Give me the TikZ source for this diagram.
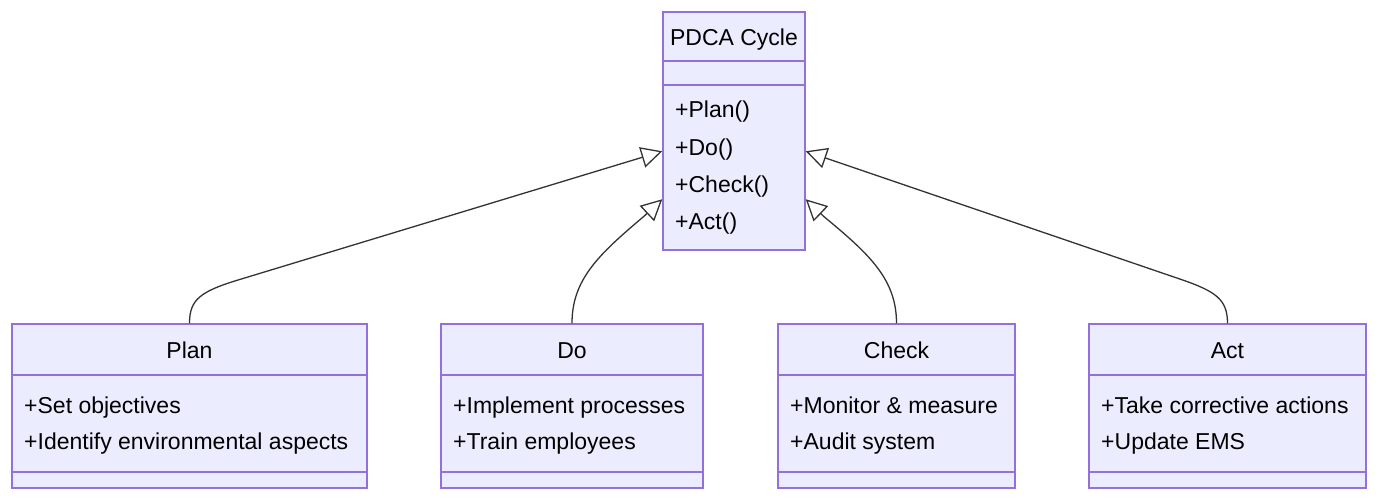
\documentclass[tikz,border=0pt]{standalone}
\usepackage{fontspec}
\setmainfont{Liberation Sans}
\usetikzlibrary{arrows.meta,calc}
\definecolor{boxfill}{HTML}{ECECFF}
\definecolor{boxline}{HTML}{9370DB}
\definecolor{edgecol}{HTML}{333333}
\begin{document}
\begin{tikzpicture}[x=1pt,y=-1pt,
  classbox/.style={draw=boxline,fill=boxfill,line width=1.5pt,inner sep=0pt,rectangle},
  divider/.style={draw=boxline,line width=1.5pt},
  title/.style={font=\fontsize{23}{27}\selectfont,inner sep=0pt,anchor=center,text height=16pt,text depth=5pt},
  member/.style={font=\fontsize{23}{27}\selectfont,inner sep=0pt,anchor=west,text height=16pt,text depth=5pt},
  inherit/.style={draw=edgecol,line width=1.3pt,-{Triangle[open,length=21pt,width=21pt,fill=white]}}]
\useasboundingbox[fill=white] (0,0) rectangle (1379,501);

% PDCA Cycle
\node[classbox,minimum width=142pt,minimum height=238pt] (pdca) at (734,131) {};
\draw[divider] (663,61) -- (805,61);
\draw[divider] (663,85) -- (805,85);
\node[title] (pdcat) at (734,40) {PDCA Cycle};
\node[member] (m1) at (675,112) {+Plan()};
\node[member] (m2) at (675,150) {+Do()};
\node[member] (m3) at (675,187) {+Check()};
\node[member] (m4) at (675,224) {+Act()};

% Plan
\node[classbox,minimum width=355pt,minimum height=164pt] (plan) at (189.5,406) {};
\draw[divider] (12,375) -- (367,375);
\draw[divider] (12,472) -- (367,472);
\node[title] (plant) at (189.5,353) {Plan};
\node[member] (p1) at (24,408) {+Set objectives};
\node[member] (p2) at (24,444) {+Identify environmental aspects};

% Do
\node[classbox,minimum width=262pt,minimum height=164pt] (do) at (572,406) {};
\draw[divider] (441,375) -- (703,375);
\draw[divider] (441,472) -- (703,472);
\node[title] (dot) at (572,353) {Do};
\node[member] (d1) at (453,408) {+Implement processes};
\node[member] (d2) at (453,444) {+Train employees};

% Check
\node[classbox,minimum width=237pt,minimum height=164pt] (check) at (896.5,406) {};
\draw[divider] (778,375) -- (1015,375);
\draw[divider] (778,472) -- (1015,472);
\node[title] (checkt) at (896.5,353) {Check};
\node[member] (c1) at (790,408) {+Monitor \& measure};
\node[member] (c2) at (790,444) {+Audit system};

% Act
\node[classbox,minimum width=277pt,minimum height=164pt] (act) at (1227.5,406) {};
\draw[divider] (1089,375) -- (1366,375);
\draw[divider] (1089,472) -- (1366,472);
\node[title] (actt) at (1227.5,353) {Act};
\node[member] (a1) at (1101,408) {+Take corrective actions};
\node[member] (a2) at (1101,444) {+Update EMS};

% Inheritance edges
\draw[inherit] (plan.north) .. controls ($(plan.north)+(0,-24)$) and ($(plan.north)+(11,-32)$) .. ($(plan.north)+(51,-44)$) -- ($(pdca.north west)+(0,140)$);
\draw[inherit] (do.north) .. controls ($(do.north)+(0,-44)$) and ($(do.north)+(27,-69)$) .. ($(do.north)+(72,-107)$) -- ($(pdca.north west)+(0,188)$);
\draw[inherit] (check.north) .. controls ($(check.north)+(0,-44)$) and ($(check.north)+(-27,-69)$) .. ($(check.north)+(-73,-107)$) -- ($(pdca.north east)+(0,188)$);
\draw[inherit] (act.north) .. controls ($(act.north)+(0,-24)$) and ($(act.north)+(-12,-32)$) .. ($(act.north)+(-47,-44)$) -- ($(pdca.north east)+(0,140)$);
\end{tikzpicture}
\end{document}
